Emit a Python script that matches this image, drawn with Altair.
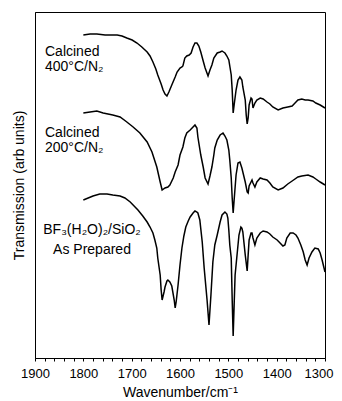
import altair as alt
import pandas as pd

# ---- data (wavenumber / cm^-1, transmission in arb. units) ----
wn_400 = [1800, 1786, 1772, 1755, 1730, 1720, 1710, 1699, 1689, 1679, 1668, 1662, 1656, 1650,
          1646, 1639, 1635, 1631, 1627, 1623, 1617, 1610, 1606, 1600, 1596, 1594, 1590, 1586,
          1581, 1577, 1573, 1569, 1565, 1561, 1557, 1552, 1548, 1542, 1538, 1534, 1530, 1523,
          1517, 1513, 1507, 1503, 1499, 1497, 1494, 1492, 1490, 1488, 1484, 1480, 1476, 1472,
          1470, 1465, 1463, 1461, 1459, 1457, 1453, 1451, 1449, 1445, 1441, 1434, 1428, 1420,
          1414, 1408, 1397, 1387, 1377, 1368, 1362, 1356, 1348, 1341, 1335, 1325, 1319, 1310, 1300]
tr_400 = [323, 324, 324, 323, 323, 322, 320, 318, 315, 311, 306, 302, 296, 289,
          283, 274, 268, 264, 262, 266, 273, 281, 286, 290, 291, 292, 300, 302,
          303, 305, 311, 315, 315, 312, 306, 297, 290, 282, 288, 293, 300, 305,
          306, 307, 305, 302, 298, 292, 283, 268, 245, 253, 268, 278, 281, 278,
          271, 258, 243, 234, 240, 253, 260, 259, 250, 255, 258, 260, 259, 256,
          254, 251, 248, 250, 251, 252, 255, 258, 259, 258, 258, 257, 255, 253, 250]

wn_200 = [1800, 1786, 1772, 1759, 1739, 1724, 1710, 1697, 1683, 1668, 1658, 1648, 1641, 1637,
          1631, 1625, 1621, 1614, 1610, 1604, 1600, 1594, 1590, 1586, 1579, 1575, 1569, 1565,
          1563, 1557, 1552, 1548, 1542, 1538, 1534, 1530, 1528, 1523, 1517, 1511, 1507, 1503,
          1499, 1497, 1494, 1492, 1490, 1488, 1484, 1480, 1476, 1472, 1465, 1461, 1459, 1457,
          1451, 1449, 1445, 1441, 1434, 1428, 1420, 1414, 1408, 1397, 1387, 1377, 1368, 1356,
          1348, 1335, 1325, 1319, 1310, 1300]
tr_200 = [245, 246, 247, 245, 243, 241, 236, 231, 225, 216, 206, 191, 176, 168,
          170, 171, 173, 180, 186, 193, 203, 211, 220, 225, 228, 230, 233, 230,
          221, 203, 191, 180, 174, 182, 191, 203, 210, 218, 223, 225, 222, 218,
          208, 198, 180, 160, 145, 158, 183, 195, 196, 190, 176, 166, 165, 172,
          178, 175, 171, 176, 180, 179, 178, 175, 171, 168, 170, 174, 177, 181,
          182, 183, 181, 179, 176, 173]

wn_prep = [1800, 1790, 1780, 1766, 1751, 1739, 1724, 1714, 1703, 1693, 1687, 1677, 1668, 1662,
           1656, 1652, 1648, 1646, 1641, 1639, 1637, 1633, 1631, 1627, 1625, 1621, 1617, 1612,
           1610, 1608, 1604, 1600, 1596, 1592, 1588, 1583, 1579, 1573, 1569, 1565, 1563, 1559,
           1554, 1550, 1544, 1540, 1536, 1532, 1528, 1523, 1517, 1513, 1507, 1503, 1501, 1499,
           1497, 1494, 1492, 1490, 1488, 1486, 1482, 1478, 1474, 1472, 1470, 1465, 1461, 1459,
           1457, 1453, 1451, 1449, 1445, 1441, 1434, 1428, 1420, 1414, 1408, 1399, 1393, 1387,
           1383, 1379, 1372, 1366, 1360, 1356, 1350, 1345, 1341, 1337, 1333, 1327, 1321, 1314,
           1310, 1306, 1302, 1300]
tr_prep = [158, 160, 162, 164, 164, 163, 162, 160, 156, 151, 148, 142, 136, 131,
           125, 118, 110, 100, 83, 68, 58, 66, 71, 77, 78, 76, 72, 58,
           50, 56, 73, 93, 110, 122, 131, 137, 141, 145, 147, 146, 145, 138,
           116, 90, 58, 33, 63, 96, 113, 123, 136, 143, 146, 144, 140, 128,
           113, 100, 58, 22, 53, 83, 103, 123, 131, 130, 126, 103, 87, 103,
           118, 125, 125, 120, 113, 120, 125, 127, 126, 124, 121, 118, 115, 112,
           113, 120, 125, 125, 123, 120, 113, 106, 98, 93, 100, 106, 110, 109,
           105, 98, 90, 86]

series_names = ["Calcined 400°C/N2", "Calcined 200°C/N2", "As Prepared"]
tick_values = list(range(1300, 1901, 20))

frames = []
for name, w, t in zip(series_names, [wn_400, wn_200, wn_prep], [tr_400, tr_200, tr_prep]):
    frames.append(pd.DataFrame({"wn": w, "t": t, "series": name}))
df = pd.concat(frames, ignore_index=True)

FONT = "Liberation Sans"

lines = alt.Chart(df).mark_line(color="black", strokeWidth=1.5).encode(
    x=alt.X("wn:Q",
            scale=alt.Scale(domain=[1300, 1900], reverse=True, nice=False, zero=False),
            axis=alt.Axis(values=tick_values, format="d",
                          labelExpr="datum.value % 100 === 0 ? datum.label : ''",
                          labelAlign={"condition": {"test": "datum.value === 1300", "value": "right"},
                                      "value": "center"},
                          labelOffset={"condition": {"test": "datum.value === 1300", "value": 8},
                                       "value": 0},
                          tickSize=3, tickColor="black", domainColor="black",
                          labelColor="black", labelFont=FONT, labelFontSize=13,
                          labelPadding=6, labelFlush=False,
                          title="Wavenumber/cm⁻¹", titleFont=FONT, titleFontSize=14,
                          titleFontWeight="normal", titleColor="black", titlePadding=5,
                          grid=False)),
    y=alt.Y("t:Q",
            scale=alt.Scale(domain=[0, 346], nice=False, zero=False),
            axis=alt.Axis(ticks=False, labels=False, grid=False, domainColor="black",
                          title="Transmission (arb units)", titleFont=FONT, titleFontSize=14,
                          titleFontWeight="normal", titleColor="black", titlePadding=9)),
    detail="series:N",
)

def label(text, x, y, align="left"):
    return alt.Chart(pd.DataFrame({"label": [text]})).mark_text(
        font=FONT, fontSize=14, color="black", align=align, baseline="alphabetic"
    ).encode(text="label:N", x=alt.value(x), y=alt.value(y))

labels = [
    label("Calcined", 10, 44),
    label("400°C/N₂", 10, 59),
    label("Calcined", 10, 125),
    label("200°C/N₂", 10, 140),
    label("BF₃(H₂O)₂/SiO₂", 57, 222, align="center"),
    label("As Prepared", 57, 242, align="center"),
]

chart = alt.layer(lines, *labels).properties(
    width=290, height=346,
    autosize=alt.AutoSizeParams(type="none"),
    padding={"left": 27, "top": 4, "right": 9, "bottom": 40},
).configure_view(stroke="black", strokeWidth=1)

chart.save("out.html", embed_options={"renderer": "svg", "actions": False})
